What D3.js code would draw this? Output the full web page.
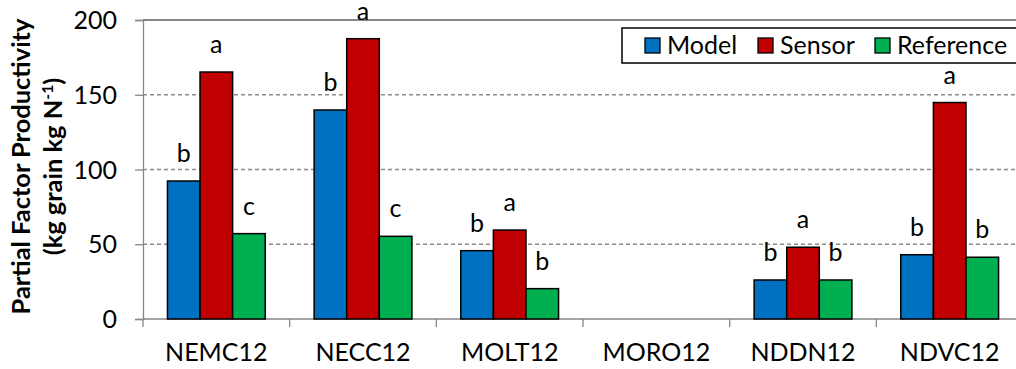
<!DOCTYPE html>
<html>
<head>
<meta charset="utf-8">
<script src="https://cdn.jsdelivr.net/npm/d3@7"></script>
<style>
  html, body { margin: 0; padding: 0; background: #fff; overflow: hidden; }
  svg { display: block; font-family: Lato, "Open Sans", sans-serif; }
</style>
</head>
<body>
<svg id="chart" width="1016" height="369"></svg>
<script>
// Sites
const categories = ["NEMC12", "NECC12", "MOLT12", "MORO12", "NDDN12", "NDVC12"];
const seriesNames = ["Model", "Sensor", "Reference"];
// Partial factor productivity (kg grain kg N-1); MORO12 has no values
const modelValues = [92.3, 139.8, 45.7, null, 26.1, 43.0];
const sensorValues = [165.2, 187.5, 59.5, null, 48.0, 144.8];
const referenceValues = [57.1, 55.3, 20.3, null, 26.1, 41.3];
// Mean separation letters
const modelLetters = ["b", "b", "b", "", "b", "b"];
const sensorLetters = ["a", "a", "a", "", "a", "a"];
const referenceLetters = ["c", "c", "b", "", "b", "b"];
const yTicks = [0, 50, 100, 150, 200];

const colors = ["#0070C0", "#C00000", "#00B050"];
const valuesBySeries = [modelValues, sensorValues, referenceValues];
const lettersBySeries = [modelLetters, sensorLetters, referenceLetters];

const svg = d3.select("#chart");
const plotLeft = 143, plotTop = 20, plotBottom = 319;
const step = 146.67;
const plotRight = plotLeft + step * categories.length;

const y = d3.scaleLinear().domain([0, 200]).range([plotBottom, plotTop]);
const x0 = d3.scaleBand().domain(categories).range([plotLeft, plotRight])
  .paddingInner(1 / 3).paddingOuter(1 / 6);
const x1 = d3.scaleBand().domain(seriesNames).range([0, x0.bandwidth()]);

// Gridlines
svg.append("g").selectAll("line")
  .data(yTicks.filter(d => d > 0 && d < 200))
  .join("line")
  .attr("x1", plotLeft).attr("x2", plotRight)
  .attr("y1", d => y(d)).attr("y2", d => y(d))
  .attr("stroke", "#8c8c8c").attr("stroke-width", 1.3)
  .attr("stroke-dasharray", "4,3");
svg.append("line")
  .attr("x1", plotLeft).attr("x2", plotRight)
  .attr("y1", y(200)).attr("y2", y(200))
  .attr("stroke", "#111").attr("stroke-width", 1.2);

// Y axis
const yAxis = d3.axisLeft(y).tickValues(yTicks).tickSize(8).tickPadding(18);
const gy = svg.append("g").attr("transform", `translate(${plotLeft},0)`).call(yAxis);
gy.select(".domain").attr("stroke", "#868686").attr("stroke-width", 1.3);
gy.selectAll(".tick line").attr("stroke", "#868686").attr("stroke-width", 1.3);
gy.selectAll(".tick text").attr("font-size", 25).attr("fill", "#000")
  .attr("font-family", "Lato, sans-serif").attr("dy", "0.34em");

// X axis with ticks at category boundaries
svg.append("line").attr("x1", plotLeft).attr("x2", plotRight)
  .attr("y1", plotBottom).attr("y2", plotBottom)
  .attr("stroke", "#868686").attr("stroke-width", 1.3);
svg.append("g").selectAll("line")
  .data(d3.range(categories.length + 1))
  .join("line")
  .attr("x1", i => plotLeft + i * step).attr("x2", i => plotLeft + i * step)
  .attr("y1", plotBottom).attr("y2", plotBottom + 8)
  .attr("stroke", "#868686").attr("stroke-width", 1.3);
svg.append("g").selectAll("text")
  .data(categories)
  .join("text")
  .attr("x", d => x0(d) + x0.bandwidth() / 2)
  .attr("y", 361)
  .attr("text-anchor", "middle")
  .attr("font-size", 25)
  .text(d => d);

// Bars with their significance letters
const groups = svg.append("g").selectAll("g")
  .data(seriesNames)
  .join("g");
groups.each(function (name, si) {
  const vals = valuesBySeries[si];
  const rows = categories.map((c, i) => ({ c, v: vals[i], l: lettersBySeries[si][i] }))
    .filter(d => d.v != null);
  const g = d3.select(this);
  g.selectAll("rect").data(rows).join("rect")
    .attr("x", d => x0(d.c) + x1(name))
    .attr("y", d => y(d.v))
    .attr("width", x1.bandwidth())
    .attr("height", d => y(0) - y(d.v))
    .attr("fill", colors[si])
    .attr("stroke", "#000").attr("stroke-width", 1.5);
  g.selectAll("text").data(rows).join("text")
    .attr("x", d => x0(d.c) + x1(name) + x1.bandwidth() / 2)
    .attr("y", d => Math.max(y(d.v) - 19, 19))
    .attr("text-anchor", "middle")
    .attr("font-size", 25)
    .text(d => d.l);
});

// Legend
const legend = svg.append("g");
legend.append("rect")
  .attr("x", 622).attr("y", 28).attr("width", 420).attr("height", 35)
  .attr("fill", "#fff").attr("stroke", "#000").attr("stroke-width", 1.5);
const legendX = [645, 758, 875];
seriesNames.forEach((name, i) => {
  legend.append("rect")
    .attr("x", legendX[i]).attr("y", 38).attr("width", 15).attr("height", 15)
    .attr("fill", colors[i]).attr("stroke", "#000").attr("stroke-width", 1.3);
  legend.append("text")
    .attr("x", legendX[i] + 22).attr("y", 54)
    .attr("font-size", 25)
    .text(name);
});

// Y axis title, sized so the first line spans most of the axis height
const title = svg.append("text")
  .attr("transform", `translate(0,${(plotTop + plotBottom) / 2 - 3}) rotate(-90)`)
  .attr("text-anchor", "middle")
  .attr("font-weight", "bold")
  .attr("font-size", 23);
const line1 = title.append("tspan").attr("x", 0).attr("y", 30).text("Partial Factor Productivity");
const fit = 23 * 296 / line1.node().getComputedTextLength();
title.attr("font-size", fit);
const line2 = title.append("tspan").attr("x", 0).attr("y", 62);
line2.append("tspan").text("(kg grain kg N");
line2.append("tspan").attr("font-size", fit * 0.62).attr("dy", -9).text("-1");
line2.append("tspan").attr("dy", 9).text(")");
</script>
</body>
</html>
